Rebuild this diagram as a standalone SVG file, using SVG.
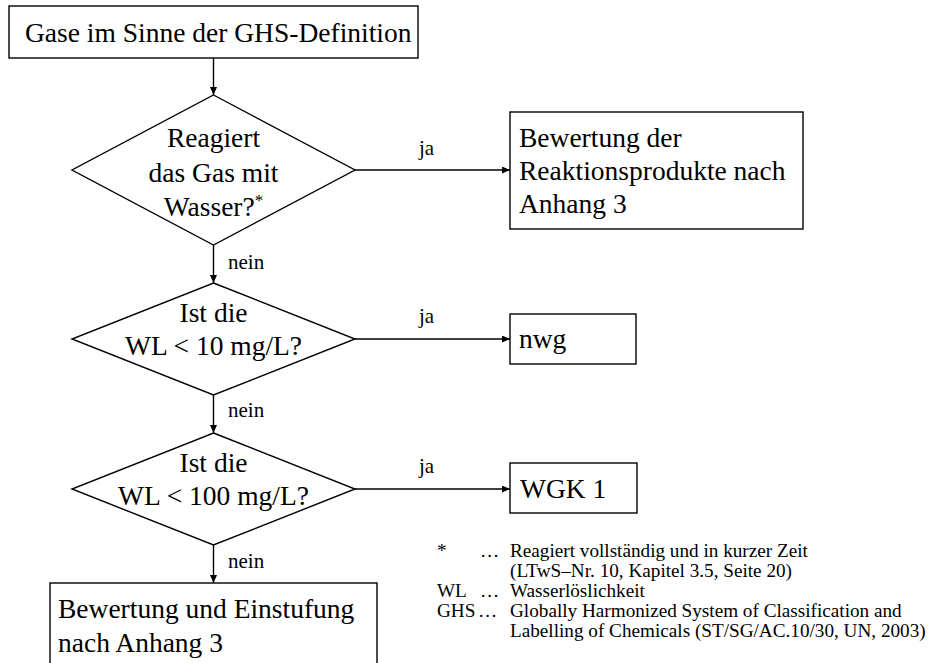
<svg xmlns="http://www.w3.org/2000/svg" width="933" height="663" viewBox="0 0 933 663">
<style>
.shape{fill:#fff;stroke:#000;stroke-width:1.4}
.big{font-family:"Liberation Serif","Times New Roman",serif;font-size:27.5px;fill:#000}
.mid{font-family:"Liberation Serif","Times New Roman",serif;font-size:21px;fill:#000}
.sm{font-family:"Liberation Serif","Times New Roman",serif;font-size:19.2px;fill:#000}
.c{text-anchor:middle}
.conn{stroke:#000;stroke-width:1.4;fill:none;marker-end:url(#arr)}
</style>
<defs>
<marker id="arr" markerUnits="userSpaceOnUse" markerWidth="9" markerHeight="7" refX="8" refY="3.5" orient="auto">
<path d="M0,0 L8,3.5 L0,7 z" fill="#000"/>
</marker>
</defs>
<rect width="933" height="663" fill="#fff"/>
<g id="connectors">
<line class="conn" x1="213.5" y1="58" x2="213.5" y2="95"/>
<line class="conn" x1="355" y1="170" x2="510" y2="170"/>
<line class="conn" x1="213.5" y1="245" x2="213.5" y2="283"/>
<line class="conn" x1="355" y1="339" x2="510" y2="339"/>
<line class="conn" x1="213.5" y1="395" x2="213.5" y2="433"/>
<line class="conn" x1="355" y1="489" x2="510" y2="489"/>
<line class="conn" x1="213.5" y1="545" x2="213.5" y2="583"/>
<text class="mid" x="419" y="155">ja</text>
<text class="mid" x="419" y="323">ja</text>
<text class="mid" x="419" y="473">ja</text>
<text class="mid" x="228" y="269">nein</text>
<text class="mid" x="228" y="417">nein</text>
<text class="mid" x="228" y="568">nein</text>
</g>
<g id="start">
<rect class="shape" x="9" y="6" width="409" height="52"/>
<text class="big" x="25" y="42">Gase im Sinne der GHS-Definition</text>
</g>
<g id="decision1">
<polygon class="shape" points="213.5,95 355,170 213.5,245 72,170"/>
<text class="big c" x="213.5" y="147">Reagiert</text>
<text class="big c" x="213.5" y="182">das Gas mit</text>
<text class="big c" x="213.5" y="216">Wasser?<tspan font-size="17" dy="-10">*</tspan></text>
</g>
<g id="reaktion">
<rect class="shape" x="510" y="112" width="293" height="117"/>
<text class="big" x="519" y="147">Bewertung der</text>
<text class="big" x="519" y="180">Reaktionsprodukte nach</text>
<text class="big" x="519" y="213">Anhang 3</text>
</g>
<g id="decision2">
<polygon class="shape" points="213.5,283 355,339 213.5,395 72,339"/>
<text class="big c" x="213.5" y="322">Ist die</text>
<text class="big c" x="213.5" y="355">WL &lt; 10 mg/L?</text>
</g>
<g id="nwg">
<rect class="shape" x="510" y="314" width="126" height="50"/>
<text class="big" x="519" y="348">nwg</text>
</g>
<g id="decision3">
<polygon class="shape" points="213.5,433 355,489 213.5,545 72,489"/>
<text class="big c" x="213.5" y="472">Ist die</text>
<text class="big c" x="213.5" y="505">WL &lt; 100 mg/L?</text>
</g>
<g id="wgk1">
<rect class="shape" x="510" y="463" width="127" height="50"/>
<text class="big" x="520" y="498">WGK 1</text>
</g>
<g id="einstufung">
<rect class="shape" x="50" y="583" width="327" height="95"/>
<text class="big" x="58" y="618">Bewertung und Einstufung</text>
<text class="big" x="58" y="652">nach Anhang 3</text>
</g>
<g id="legend">
<text class="sm" x="437" y="557">*</text>
<text class="sm" x="480" y="557">…</text>
<text class="sm" x="510" y="557">Reagiert vollständig und in kurzer Zeit</text>
<text class="sm" x="510" y="577">(LTwS–Nr. 10, Kapitel 3.5, Seite 20)</text>
<text class="sm" x="437" y="597">WL</text>
<text class="sm" x="480" y="597">…</text>
<text class="sm" x="510" y="597">Wasserlöslichkeit</text>
<text class="sm" x="437" y="617">GHS</text>
<text class="sm" x="478" y="617">…</text>
<text class="sm" x="510" y="617">Globally Harmonized System of Classification and</text>
<text class="sm" x="510" y="637">Labelling of Chemicals (ST/SG/AC.10/30, UN, 2003)</text>
</g>
</svg>
